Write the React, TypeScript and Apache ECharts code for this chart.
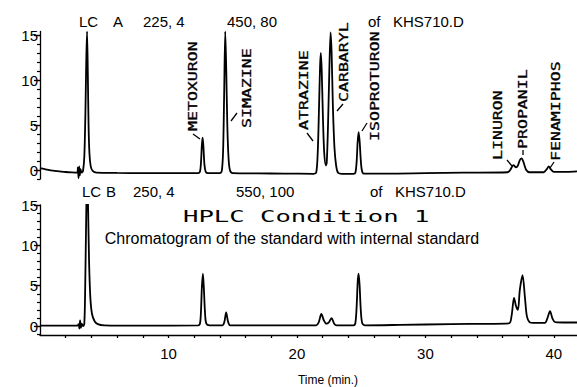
import { useEffect, useRef } from 'react';
import * as echarts from 'echarts';

const timeMax = 41.8;
const yMajorTicks = [0, 5, 10, 15];
const yMinorTicks = [-1, 0, 1, 2, 3, 4, 5, 6, 7, 8, 9, 10, 11, 12, 13, 14, 15];
const xTickValues = [2, 4, 6, 8, 10, 12, 14, 16, 18, 20, 22, 24, 26, 28, 30, 32, 34, 36, 38, 40];
const xLabelValues = [10, 20, 30, 40];

// LC A trace (time in min, signal)
const traceA: [number, number][] = [
  [0, 0.2], [0.5, 0.05], [1, -0.08], [1.5, -0.15], [2, -0.22], [2.5, -0.27], [2.9, -0.3],
  [2.95, 0.3], [3.0, -0.9], [3.05, 0.4], [3.1, -0.6], [3.15, 0.1], [3.25, -0.3], [3.35, -0.1],
  [3.45, 1.5], [3.53, 6], [3.6, 12], [3.66, 15.4], [3.72, 11], [3.78, 5], [3.85, 1.8], [3.95, 0.4], [4.1, -0.1], [4.4, -0.3],
  [6, -0.33], [8, -0.35], [10, -0.35], [12.3, -0.35], [12.45, -0.2], [12.53, 0.8], [12.6, 2.8], [12.66, 3.6], [12.72, 2.6], [12.8, 0.6], [12.9, -0.2], [13.1, -0.35],
  [14.0, -0.35], [14.15, -0.1], [14.25, 2], [14.33, 8], [14.42, 15.4], [14.5, 11], [14.58, 5], [14.67, 1.5], [14.78, 0], [15.0, -0.35],
  [17, -0.38], [19, -0.4], [21.3, -0.42], [21.5, -0.3], [21.62, 2], [21.72, 7], [21.8, 11.5], [21.86, 13], [21.93, 11], [22.02, 6], [22.12, 2], [22.25, 0.5],
  [22.32, 0.8], [22.42, 5], [22.52, 11], [22.62, 15.3], [22.7, 13], [22.8, 7], [22.92, 2.5], [23.05, 0.5], [23.2, -0.3], [23.5, -0.42],
  [24.4, -0.42], [24.55, -0.3], [24.65, 1], [24.72, 3], [24.8, 4.2], [24.88, 3.2], [24.96, 1.3], [25.05, 0], [25.2, -0.4],
  [27, -0.4], [30, -0.35], [33, -0.3], [36.4, -0.25], [36.6, 0], [36.85, 0.55], [37.05, 0.3], [37.2, 0.5], [37.35, 1.1], [37.5, 1.3], [37.65, 0.8], [37.85, 0], [38.1, -0.25],
  [39.2, -0.25], [39.45, 0.1], [39.6, 0.4], [39.75, 0.1], [40.0, -0.2], [41, -0.2], [41.8, -0.15],
];

// LC B trace
const traceB: [number, number][] = [
  [0, 0.05], [1.5, 0.05], [2.9, 0.05], [3.0, 0.25], [3.07, -0.3], [3.12, 0.7], [3.18, -0.2], [3.25, 0.3], [3.35, 0], [3.45, 0.3],
  [3.52, 5], [3.6, 14], [3.67, 20], [3.74, 15], [3.82, 8], [3.92, 3.5], [4.05, 1.5], [4.25, 0.6], [4.5, 0.25], [5, 0.1],
  [8, 0.05], [12.3, 0.08], [12.45, 0.3], [12.53, 1.8], [12.6, 4.8], [12.68, 6.5], [12.76, 4.5], [12.85, 1.5], [12.95, 0.3], [13.2, 0.1],
  [14.2, 0.1], [14.35, 0.5], [14.49, 1.7], [14.63, 0.6], [14.8, 0.1],
  [18, 0.1], [21.5, 0.1], [21.7, 0.5], [21.9, 1.5], [22.1, 0.7], [22.3, 0.3], [22.5, 0.5], [22.7, 1.0], [22.9, 0.3], [23.1, 0.1],
  [24.4, 0.1], [24.55, 0.4], [24.65, 2.5], [24.73, 5.5], [24.8, 6.5], [24.88, 5], [24.97, 2], [25.08, 0.4], [25.3, 0.1],
  [28, 0.15], [32, 0.25], [36.5, 0.35], [36.7, 1.2], [36.9, 3.5], [37.05, 2.5], [37.2, 2.0], [37.35, 4.5], [37.56, 6.3], [37.75, 3.5], [37.9, 1.2], [38.1, 0.5], [38.4, 0.4],
  [39.3, 0.4], [39.5, 1.0], [39.7, 1.85], [39.9, 0.9], [40.1, 0.5], [41, 0.45], [41.8, 0.45],
];

const headerA: [string, number][] = [['LC', 79], ['A', 113], ['225, 4', 143], ['450, 80', 227], ['of', 368], ['KHS710.D', 393]];
const headerB: [string, number][] = [['LC', 82], ['B', 106], ['250, 4', 133], ['550, 100', 236], ['of', 370], ['KHS710.D', 395]];

const peakNames = ['METOXURON', 'SIMAZINE', 'ATRAZINE', 'CARBARYL', 'ISOPROTURON', 'LINURON', 'PROPANIL', 'FENAMIPHOS'];
const peakLabelPos: [number, number][] = [[193, 131], [247, 128], [304, 130], [344, 102], [375, 141], [498, 160], [523, 149], [556, 161]];
const leaderLines: [number, number, number, number][] = [
  [193, 134, 200, 139], [237, 113, 231, 121], [307, 133, 313, 141], [343, 104, 337, 111],
  [367, 123, 362, 131], [507, 160, 512, 166], [523, 150, 523, 155], [554, 162, 550, 168],
];

const titleText = 'HPLC Condition 1';
const subtitleText = 'Chromatogram of the standard with internal standard';
const xName = 'Time (min.)';

const SANS = '"Liberation Sans", Arial, Helvetica, sans-serif';
const MONO = '"DejaVu Sans Mono", monospace';

export default function App() {
  const ref = useRef<HTMLDivElement>(null);
  useEffect(() => {
    if (!ref.current) return;
    const chart = echarts.init(ref.current, null, { renderer: 'svg' });
    const black = '#000';
    const yAxisMajor = (gridIndex: number, min: number, max: number) => ({
      type: 'value', gridIndex, min, max, position: 'left',
      axisLine: { show: true, onZero: false, lineStyle: { color: black, width: 1.3 } },
      axisTick: { show: true, customValues: yMajorTicks, length: 6, lineStyle: { color: black, width: 1.3 } },
      axisLabel: { show: true, customValues: yMajorTicks, color: black, fontSize: 15, fontFamily: SANS, margin: 2 },
      splitLine: { show: false },
    });
    const yAxisMinor = (gridIndex: number, min: number, max: number) => ({
      type: 'value', gridIndex, min, max, position: 'left',
      axisLine: { show: false },
      axisTick: { show: true, customValues: yMinorTicks, length: 3, lineStyle: { color: black, width: 1.2 } },
      axisLabel: { show: false },
      splitLine: { show: false },
    });
    const graphics: any[] = [];
    headerA.forEach(([t, x]) => graphics.push({ type: 'text', x, y: 21, style: { text: t, fill: black, fontSize: 15, fontFamily: SANS, align: 'left', verticalAlign: 'middle', textAlign: 'left', textVerticalAlign: 'middle' } }));
    headerB.forEach(([t, x]) => graphics.push({ type: 'text', x, y: 191, style: { text: t, fill: black, fontSize: 15, fontFamily: SANS, align: 'left', verticalAlign: 'middle', textAlign: 'left', textVerticalAlign: 'middle' } }));
    peakNames.forEach((n, i) => graphics.push({
      type: 'text', x: peakLabelPos[i][0], y: peakLabelPos[i][1], rotation: Math.PI / 2, scaleX: 1.38,
      style: { text: n, fill: black, fontSize: 12, fontFamily: MONO, align: 'left', verticalAlign: 'middle', textAlign: 'left', textVerticalAlign: 'middle', stroke: black, lineWidth: 0.3 },
    }));
    leaderLines.forEach(([x1, y1, x2, y2]) => graphics.push({ type: 'line', shape: { x1, y1, x2, y2 }, style: { stroke: black, lineWidth: 1.3 } }));
    graphics.push({ type: 'text', x: 183, y: 216, scaleX: 1.6, style: { text: titleText, fill: black, fontSize: 16, fontFamily: MONO, align: 'left', verticalAlign: 'middle', textAlign: 'left', textVerticalAlign: 'middle' } });
    graphics.push({ type: 'text', x: 292, y: 238, style: { text: subtitleText, fill: black, fontSize: 16, fontFamily: SANS, align: 'center', verticalAlign: 'middle', textAlign: 'center', textVerticalAlign: 'middle' } });
    graphics.push({ type: 'text', x: 328, y: 380, style: { text: xName, fill: black, fontSize: 12, fontFamily: SANS, align: 'center', verticalAlign: 'middle', textAlign: 'center', textVerticalAlign: 'middle' } });

    chart.setOption({
      animation: false,
      backgroundColor: '#fff',
      grid: [
        { left: 40, right: 0, top: 31.4, height: 147.6, containLabel: false, outerBoundsMode: 'none' },
        { left: 40, right: 0, top: 205, height: 130, containLabel: false, outerBoundsMode: 'none' },
      ],
      xAxis: [
        { type: 'value', gridIndex: 0, min: 0, max: timeMax, show: false },
        {
          type: 'value', gridIndex: 1, min: 0, max: timeMax,
          axisLine: { show: true, onZero: false, lineStyle: { color: black, width: 1.3 } },
          axisTick: { show: true, customValues: xTickValues, length: 3, lineStyle: { color: black, width: 1.3 } },
          axisLabel: { show: true, customValues: xLabelValues, color: black, fontSize: 15, fontFamily: SANS, margin: 11 },
          splitLine: { show: false },
        },
      ],
      yAxis: [yAxisMajor(0, -1, 15.4), yAxisMinor(0, -1, 15.4), yAxisMajor(1, -1.1, 15), yAxisMinor(1, -1.1, 15)],
      series: [
        { type: 'line', xAxisIndex: 0, yAxisIndex: 0, data: traceA, symbol: 'none', smooth: 0.3, lineStyle: { color: black, width: 1.8 }, silent: true },
        { type: 'line', xAxisIndex: 1, yAxisIndex: 2, data: traceB, symbol: 'none', smooth: 0.3, lineStyle: { color: black, width: 1.8 }, silent: true },
      ],
      graphic: graphics,
    });
    return () => chart.dispose();
  }, []);
  return <div ref={ref} style={{ position: 'fixed', left: 0, top: 0, width: 577, height: 387 }} />;
}
